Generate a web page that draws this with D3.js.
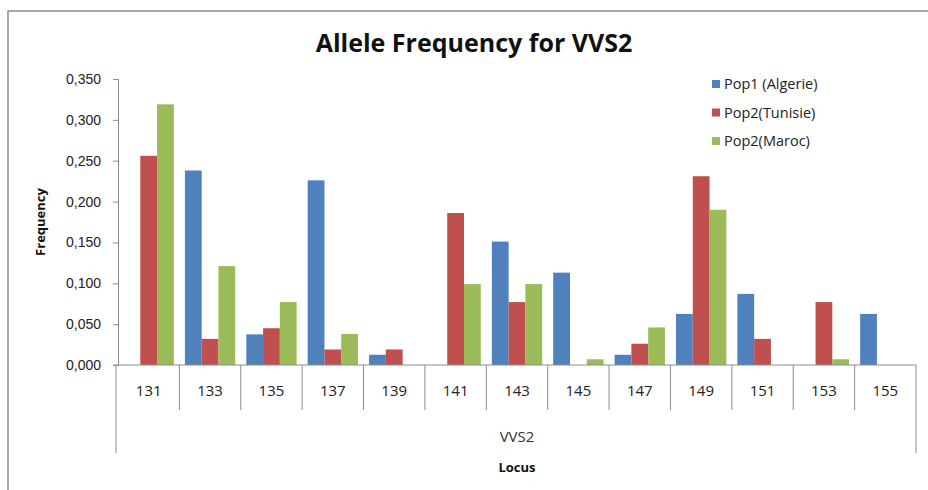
<!DOCTYPE html>
<html>
<head>
<meta charset="utf-8">
<script src="https://cdn.jsdelivr.net/npm/d3@7"></script>
<style>
  body { margin: 0; background: #fff; }
  svg { display: block; font-family: "Open Sans", "Noto Sans", sans-serif; }
</style>
</head>
<body>
<div id="chart"></div>
<script>
// alleles on the x axis
const alleles = ["131", "133", "135", "137", "139", "141", "143", "145", "147", "149", "151", "153", "155"];
const seriesNames = ["Pop1 (Algerie)", "Pop2(Tunisie)", "Pop2(Maroc)"];
const seriesColors = ["#4F81BD", "#C0504D", "#9BBB59"];

// frequencies
const algerie = [0, 0.238, 0.0375, 0.226, 0.0125, 0, 0.151, 0.113, 0.0125, 0.0625, 0.087, 0, 0.0625];
const tunisie = [0.256, 0.032, 0.045, 0.019, 0.019, 0.186, 0.077, 0, 0.026, 0.231, 0.032, 0.077, 0];
const maroc   = [0.319, 0.121, 0.077, 0.038, 0, 0.099, 0.099, 0.007, 0.046, 0.190, 0, 0.007, 0];

const yTicks = [0, 0.05, 0.1, 0.15, 0.2, 0.25, 0.3, 0.35];

const width = 928, height = 490;
const plot = { left: 118, right: 916, top: 79, bottom: 365 };

const svg = d3.select("#chart").append("svg")
    .attr("width", width)
    .attr("height", height);

// cropped chart frame (top and left edges only visible)
svg.append("path")
    .attr("d", `M8,${height} L8,11 L${width},11`)
    .attr("fill", "none")
    .attr("stroke", "#8c8c8c")
    .attr("stroke-width", 1.5);

const x0 = d3.scaleBand()
    .domain(alleles)
    .range([plot.left, plot.right]);

const x1 = d3.scaleBand()
    .domain(seriesNames)
    .range([0, x0.bandwidth()])
    .paddingInner(0)
    .paddingOuter(0.33);

const y = d3.scaleLinear()
    .domain([0, 0.35])
    .range([plot.bottom, plot.top]);

const fmt = v => d3.format(".3f")(v).replace(".", ",");

// y axis
const yAxis = svg.append("g")
    .attr("transform", `translate(${plot.left},0)`)
    .call(d3.axisLeft(y).tickValues(yTicks).tickSize(5).tickFormat(fmt));
yAxis.select(".domain").attr("stroke", "#8c8c8c");
yAxis.selectAll(".tick line").attr("stroke", "#8c8c8c");
yAxis.selectAll(".tick text")
    .attr("x", -17)
    .attr("fill", "#222")
    .style("font-size", "14px");

// bars
const series = [algerie, tunisie, maroc];
const groups = svg.append("g").selectAll("g")
    .data(alleles)
    .join("g")
    .attr("transform", d => `translate(${x0(d)},0)`);

groups.selectAll("rect")
    .data((d, i) => seriesNames.map((s, j) => ({ s, v: series[j][i], c: seriesColors[j] })))
    .join("rect")
    .attr("x", d => x1(d.s))
    .attr("width", x1.bandwidth())
    .attr("y", d => y(d.v))
    .attr("height", d => y(0) - y(d.v))
    .attr("fill", d => d.c);

// x axis line and category dividers
const gx = svg.append("g").attr("stroke", "#8c8c8c");
gx.append("line")
    .attr("x1", plot.left - 5).attr("x2", plot.right)
    .attr("y1", plot.bottom).attr("y2", plot.bottom);
gx.selectAll("line.div")
    .data(alleles.slice(1))
    .join("line")
    .attr("class", "div")
    .attr("x1", d => x0(d)).attr("x2", d => x0(d))
    .attr("y1", plot.bottom).attr("y2", 410);
// outer group bracket for the locus level
gx.append("line")
    .attr("x1", plot.left - 2).attr("x2", plot.left - 2)
    .attr("y1", plot.bottom).attr("y2", 453);
gx.append("line")
    .attr("x1", plot.right).attr("x2", plot.right)
    .attr("y1", plot.bottom).attr("y2", 453);

svg.append("g").selectAll("text")
    .data(alleles)
    .join("text")
    .attr("x", d => x0(d) + x0.bandwidth() / 2)
    .attr("y", 396)
    .attr("text-anchor", "middle")
    .attr("fill", "#222")
    .style("font-size", "15px")
    .text(d => d);

svg.append("text")
    .attr("x", (plot.left + plot.right) / 2)
    .attr("y", 442)
    .attr("text-anchor", "middle")
    .attr("fill", "#333")
    .style("font-size", "15px")
    .text("VVS2");

// axis titles
svg.append("text")
    .attr("x", (plot.left + plot.right) / 2)
    .attr("y", 472)
    .attr("text-anchor", "middle")
    .attr("font-weight", "bold")
    .attr("fill", "#111")
    .style("font-size", "13px")
    .text("Locus");

svg.append("text")
    .attr("transform", `translate(45,${(plot.top + plot.bottom) / 2}) rotate(-90)`)
    .attr("text-anchor", "middle")
    .attr("font-weight", "bold")
    .attr("fill", "#111")
    .style("font-size", "13px")
    .text("Frequency");

// title
svg.append("text")
    .attr("x", 474)
    .attr("y", 52)
    .attr("text-anchor", "middle")
    .attr("font-weight", "bold")
    .attr("fill", "#111")
    .style("font-size", "25px")
    .text("Allele Frequency for VVS2");

// legend
const legend = svg.append("g").selectAll("g")
    .data(seriesNames)
    .join("g")
    .attr("transform", (d, i) => `translate(712,${84 + i * 28.5})`);
legend.append("rect")
    .attr("x", 0).attr("y", -4)
    .attr("width", 8).attr("height", 8)
    .attr("fill", (d, i) => seriesColors[i]);
legend.append("text")
    .attr("x", 12)
    .attr("y", 5)
    .attr("fill", "#222")
    .style("font-size", "14.5px")
    .text(d => d);
</script>
</body>
</html>
